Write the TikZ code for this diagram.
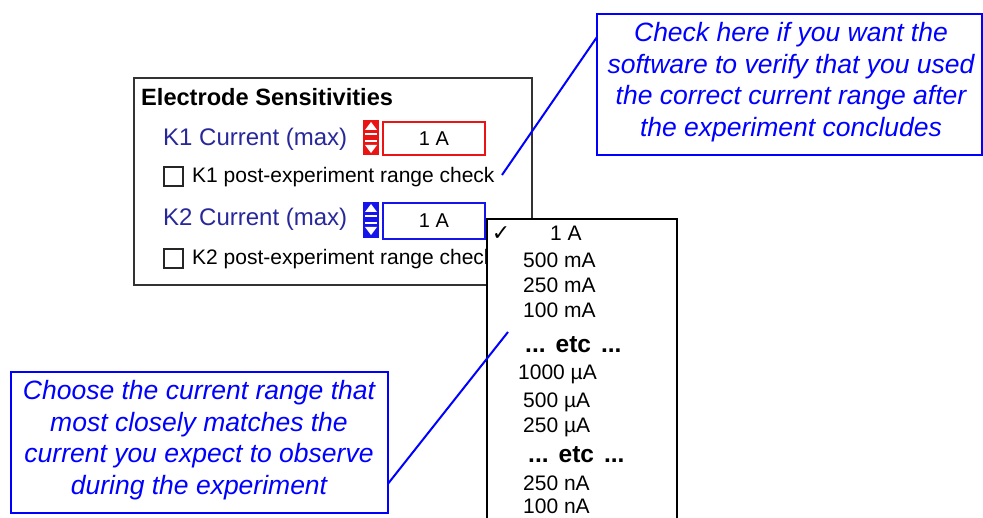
\documentclass[tikz,border=0pt]{standalone}
\usepackage{fontspec}
\setmainfont{Liberation Sans}
\newfontfamily\symfont{DejaVu Sans}
\begin{document}
\begin{tikzpicture}[x=1pt,y=-1pt,
  labeltext/.style={anchor=west,inner sep=0pt,text=labelblue,font=\fontsize{24}{26}\selectfont},
  smalltext/.style={anchor=west,inner sep=0pt,font=\fontsize{21}{24}\selectfont},
  itemtext/.style={anchor=west,inner sep=0pt,font=\fontsize{21}{24}\selectfont},
  etctext/.style={anchor=west,inner sep=0pt,font=\bfseries\fontsize{24.5}{26}\selectfont},
  valuebox/.style={draw,line width=2pt,fill=white,minimum width=102pt,minimum height=33pt,anchor=north west,inner sep=0pt,font=\fontsize{20}{22}\selectfont},
  checkbox/.style={draw=black!85,line width=1.6pt,fill=white,minimum size=19pt,anchor=north west,inner sep=0pt},
  note/.style={draw=calloutblue,line width=2pt,fill=white,anchor=north west,inner sep=0pt},
  notetext/.style={align=center,text=calloutblue,inner sep=0pt,font=\itshape\fontsize{26.5}{31.6}\selectfont},
  leader/.style={draw=calloutblue,line width=2pt}]
\definecolor{labelblue}{RGB}{40,40,155}
\definecolor{calloutblue}{RGB}{0,0,255}
\definecolor{spinred}{RGB}{235,20,20}
\definecolor{spinblue}{RGB}{20,20,235}
\useasboundingbox (0,0) rectangle (983,518);
\clip (0,0) rectangle (983,518);
\fill[white] (0,0) rectangle (983,518);

% settings panel
\node[draw=black!80,line width=2.2pt,minimum width=398pt,minimum height=207pt,anchor=north west,inner sep=0pt] (panel) at (133,77) {};
\node[anchor=west,inner sep=0pt,font=\bfseries\fontsize{23.6}{26}\selectfont] (title) at (141,97) {Electrode Sensitivities};

% K1 row
\node[labeltext] (k1label) at (163,139) {K1 Current (max)};
\node[fill=spinred,minimum width=16pt,minimum height=35pt,anchor=north west,inner sep=0pt] (k1spin) at (363,120) {};
\fill[white] (371,122) -- (377,130) -- (365,130) -- cycle;
\fill[white] (365,133) rectangle (377,134.6);
\fill[white] (365,140) rectangle (377,141.6);
\fill[white] (365,145) -- (377,145) -- (371,153) -- cycle;
\node[valuebox,draw=spinred] (k1value) at (382,121) {1 A};
\node[checkbox] (k1check) at (163,166) {};
\node[smalltext] (k1text) at (192,177) {K1 post-experiment range check};

% K2 row
\node[labeltext] (k2label) at (163,219) {K2 Current (max)};
\node[fill=spinblue,minimum width=16pt,minimum height=36pt,anchor=north west,inner sep=0pt] (k2spin) at (363,202) {};
\fill[white] (371,204) -- (377,212) -- (365,212) -- cycle;
\fill[white] (365,215) rectangle (377,216.6);
\fill[white] (365,222) rectangle (377,223.6);
\fill[white] (365,227) -- (377,227) -- (371,235) -- cycle;
\node[valuebox,draw=spinblue,minimum height=36pt] (k2value) at (382,202) {1 A};
\node[checkbox] (k2check) at (163,248) {};
\node[smalltext] (k2text) at (192,259) {K2 post-experiment range check};

% open drop-down list of ranges
\node[draw=black,line width=1.6pt,fill=white,minimum width=190pt,minimum height=320pt,anchor=north west,inner sep=0pt] (list) at (486,218) {};
\node[anchor=center,inner sep=0pt,font=\symfont\fontsize{22}{24}\selectfont] (tick) at (501,234) {✓};
\node[itemtext] (i1) at (550,233) {1 A};
\node[itemtext] (i2) at (523,260) {500 mA};
\node[itemtext] (i3) at (523,285) {250 mA};
\node[itemtext] (i4) at (523,310) {100 mA};
\node[etctext] (e1) at (525,345) {...\hspace{10pt}etc\hspace{10pt}...};
\node[itemtext] (i5) at (518,374) {1000 µA};
\node[itemtext] (i6) at (523,402) {500 µA};
\node[itemtext] (i7) at (523,427) {250 µA};
\node[etctext] (e2) at (528,455) {...\hspace{10pt}etc\hspace{10pt}...};
\node[itemtext] (i8) at (523,483) {250 nA};
\node[itemtext] (i9) at (523,506) {100 nA};

% explanatory notes with leader lines
\coordinate (k1tip) at (502,175);
\coordinate (note1end) at (597,37);
\coordinate (listtip) at (508,332);
\coordinate (note2end) at (387,485);
\draw[leader] (k1tip) -- (note1end);
\draw[leader] (note2end) -- (listtip);

\node[note,minimum width=385pt,minimum height=141pt] (note1) at (596,13) {};
\node[notetext] (note1text) at (791,82) {Check here if you want the\\software to verify that you used\\the correct current range after\\the experiment concludes};

\node[note,minimum width=377pt,minimum height=141pt] (note2) at (10,371) {};
\node[notetext] (note2text) at (199,440) {Choose the current range that\\most closely matches the\\current you expect to observe\\during the experiment};
\end{tikzpicture}
\end{document}
